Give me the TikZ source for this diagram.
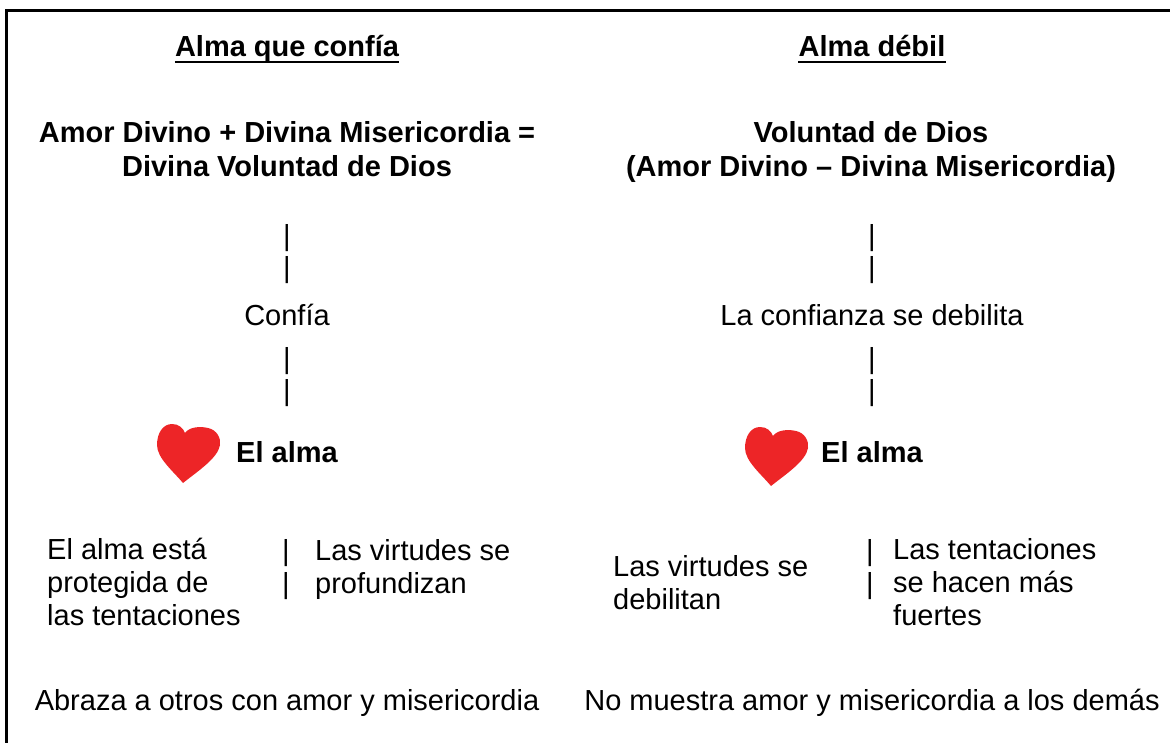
\documentclass[tikz,border=0pt]{standalone}
\usepackage{fontspec}
\setmainfont{Liberation Sans}
\usetikzlibrary{positioning}
\definecolor{heartred}{RGB}{237,37,39}
\tikzset{
  txt/.style={inner sep=0pt,anchor=base,font=\fontsize{29}{33}\selectfont},
  ttl/.style={txt,font=\fontsize{29}{34.5}\selectfont\bfseries,align=center},
  lft/.style={txt,anchor=base west,align=left},
  heart/.pic={
    \fill[heartred] (0,0) .. controls (-10,12) and (-26,25) .. (-26,38)
      .. controls (-26,50) and (-20,59) .. (-11,59)
      .. controls (-4,59) and (0,55) .. (2,50)
      .. controls (6,56) and (17,57) .. (25,55)
      .. controls (34,53) and (38,45) .. (37,38)
      .. controls (35,25) and (15,12) .. (0,0);
  }
}
\begin{document}
\begin{tikzpicture}[x=1pt,y=1pt]
\useasboundingbox (0,0) rectangle (1170,-743);
\draw[line width=3pt] (6.5,-743) -- (6.5,-10.5) -- (1170,-10.5);
% left column
\node[ttl] (h1) at (287,-57) {Alma que confía};
\draw[line width=2pt] ([yshift=-5.5pt]h1.base west) -- ([yshift=-5.5pt]h1.base east);
\node[ttl] (a1) at (287,-177) {Amor Divino + Divina Misericordia =\\Divina Voluntad de Dios};
\node[txt] (p1) at (287,-246) {|};
\node[txt] (p2) at (287,-278) {|};
\node[txt] (c1) at (287,-326) {Confía};
\node[txt] (p3) at (287,-368) {|};
\node[txt] (p4) at (287,-400) {|};
\pic at (183,-483) {heart};
\node[txt,anchor=base west,font=\fontsize{29}{33}\selectfont\bfseries] (s1) at (236,-462) {El alma};
\node[lft] (l1) at (47,-625) {El alma está\\protegida de\\las tentaciones};
\node[lft] (q1) at (282,-593) {|\\|};
\node[lft] (r1) at (315,-593) {Las virtudes se\\profundizan};
\node[txt] (b1) at (287,-710) {Abraza a otros con amor y misericordia};
% right column
\node[ttl] (h2) at (872,-57) {Alma débil};
\draw[line width=2pt] ([yshift=-5.5pt]h2.base west) -- ([yshift=-5.5pt]h2.base east);
\node[ttl] (a2) at (871,-177) {Voluntad de Dios\\(Amor Divino – Divina Misericordia)};
\node[txt] (p5) at (872,-246) {|};
\node[txt] (p6) at (872,-278) {|};
\node[txt] (c2) at (872,-326) {La confianza se debilita};
\node[txt] (p7) at (872,-368) {|};
\node[txt] (p8) at (872,-400) {|};
\pic at (771,-486) {heart};
\node[txt,anchor=base west,font=\fontsize{29}{33}\selectfont\bfseries] (s2) at (821,-462) {El alma};
\node[lft] (l2) at (613,-609) {Las virtudes se\\debilitan};
\node[lft] (q2) at (866,-593) {|\\|};
\node[lft] (r2) at (893,-625) {Las tentaciones\\se hacen más\\fuertes};
\node[txt] (b2) at (872,-710) {No muestra amor y misericordia a los demás};
\end{tikzpicture}
\end{document}
